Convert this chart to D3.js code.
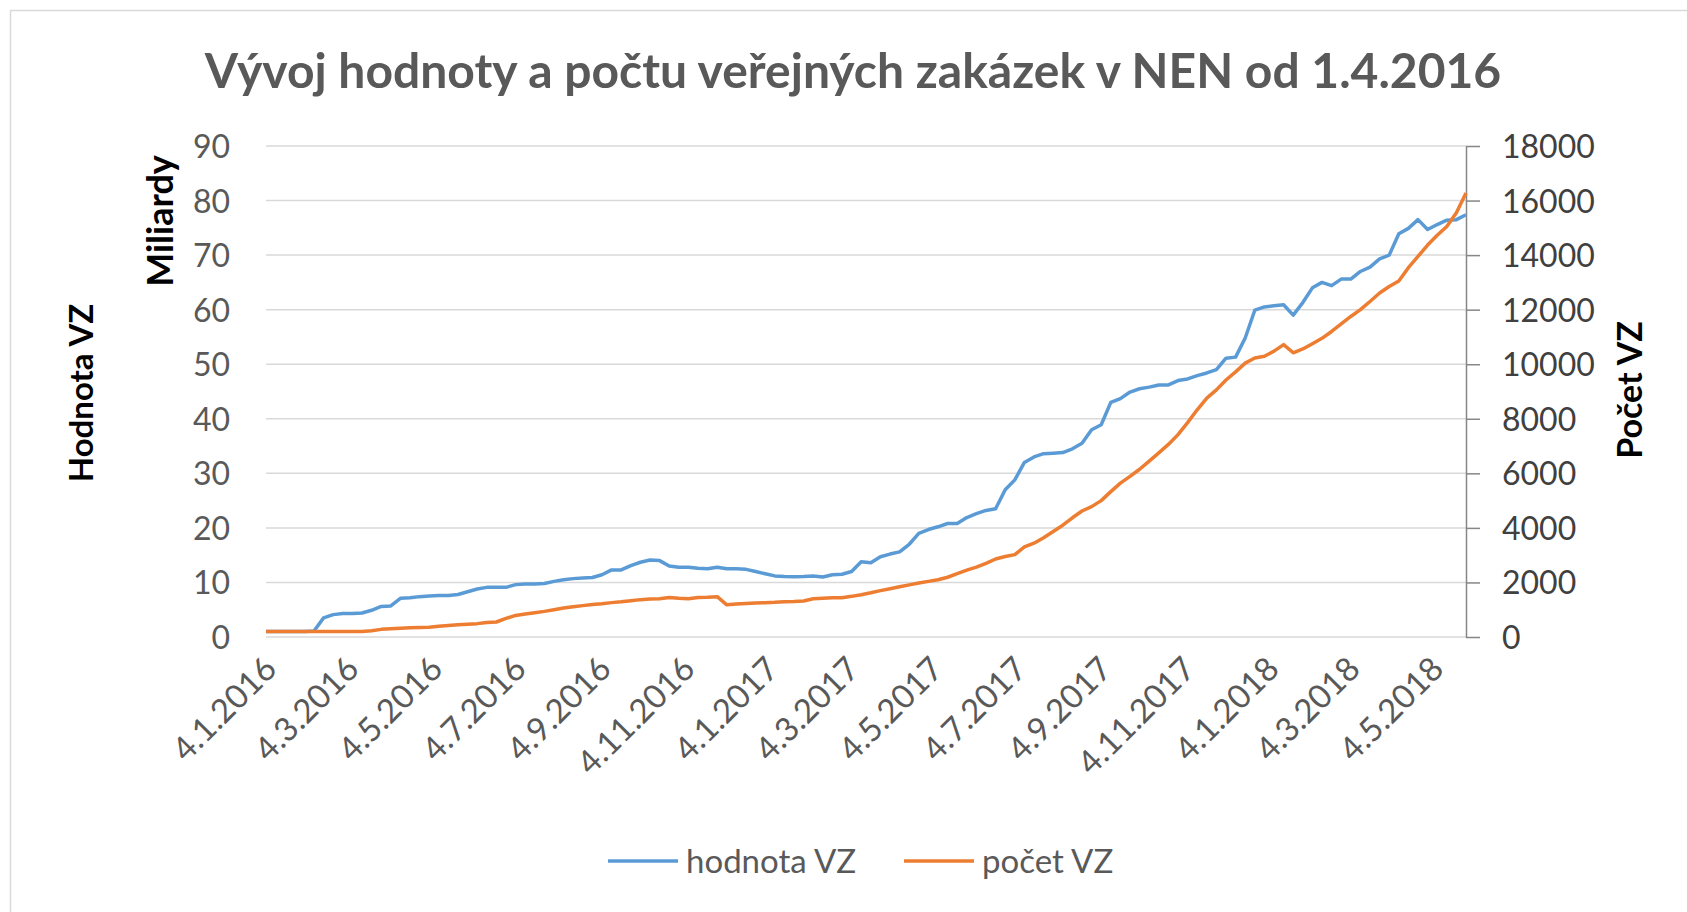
<!DOCTYPE html>
<html lang="cs">
<head>
<meta charset="UTF-8">
<title>Vývoj hodnoty a počtu veřejných zakázek v NEN</title>
<script src="https://cdn.jsdelivr.net/npm/d3@7"></script>
<style>
  body { margin: 0; background: #fff; }
  text { font-family: Lato, "Open Sans", sans-serif; }
</style>
</head>
<body>
<script>
// weekly values, Monday 4.1.2016 .. Monday 28.5.2018
const hodnotaVZ = [
  1.0, 1.0, 1.0, 1.0, 1.0, 1.1, 3.5, 4.1, 4.3, 4.3,
  4.4, 4.9, 5.6, 5.7, 7.1, 7.2, 7.4, 7.5, 7.6, 7.6,
  7.8, 8.3, 8.8, 9.1, 9.1, 9.1, 9.6, 9.7, 9.7, 9.8,
  10.2, 10.5, 10.7, 10.8, 10.9, 11.4, 12.3, 12.3, 13.1, 13.7,
  14.1, 14.0, 13.0, 12.8, 12.8, 12.6, 12.5, 12.8, 12.5, 12.5,
  12.4, 12.0, 11.6, 11.2, 11.1, 11.05, 11.1, 11.2, 11.0, 11.4,
  11.5, 12.0, 13.8, 13.6, 14.7, 15.2, 15.6, 17.0, 19.0, 19.7,
  20.2, 20.8, 20.8, 21.9, 22.6, 23.2, 23.5, 27.0, 28.8, 32.0,
  33.0, 33.6, 33.7, 33.8, 34.5, 35.5, 38.0, 38.9, 43.0, 43.7,
  44.9, 45.5, 45.8, 46.2, 46.2, 47.0, 47.3, 47.9, 48.4, 49.0,
  51.1, 51.3, 54.8, 59.9, 60.5, 60.7, 60.9, 59.0, 61.3, 64.0,
  65.0, 64.4, 65.6, 65.6, 67.0, 67.8, 69.3, 70.0, 73.9, 74.9,
  76.5, 74.7, 75.6, 76.4, 76.5, 77.4
];
const pocetVZ = [
  200, 200, 200, 200, 200, 200, 200, 200, 200, 200,
  200, 230, 280, 300, 320, 340, 350, 360, 390, 420,
  450, 470, 490, 530, 550, 680, 790, 840, 890, 940,
  1000, 1060, 1110, 1150, 1190, 1220, 1260, 1290, 1330, 1370,
  1390, 1400, 1450, 1420, 1400, 1450, 1460, 1480, 1180, 1210,
  1230, 1250, 1260, 1270, 1290, 1300, 1320, 1400, 1420, 1440,
  1440, 1490, 1550, 1620, 1700, 1770, 1840, 1910, 1980, 2040,
  2100, 2190, 2320, 2450, 2560, 2700, 2860, 2950, 3020, 3300,
  3440, 3640, 3870, 4100, 4370, 4620, 4780, 5000, 5330, 5640,
  5890, 6150, 6450, 6750, 7060, 7420, 7860, 8330, 8760, 9060,
  9420, 9720, 10040, 10230, 10290, 10480, 10720, 10420, 10560, 10750,
  10950, 11200, 11480, 11750, 12000, 12300, 12610, 12850, 13050, 13540,
  13950, 14370, 14730, 15050, 15550, 16280
];
const tickLabels = [
  "4.1.2016", "4.3.2016", "4.5.2016", "4.7.2016", "4.9.2016", "4.11.2016",
  "4.1.2017", "4.3.2017", "4.5.2017", "4.7.2017", "4.9.2017", "4.11.2017",
  "4.1.2018", "4.3.2018", "4.5.2018"
];
const leftTicks = [0, 10, 20, 30, 40, 50, 60, 70, 80, 90];
const rightTicks = [0, 2000, 4000, 6000, 8000, 10000, 12000, 14000, 16000, 18000];
const seriesNames = ["hodnota VZ", "počet VZ"];
const colors = ["#5b9bd5", "#ed7d31"];

const width = 1687, height = 912;
const plot = { left: 266, right: 1466, top: 146, bottom: 637 };

const parseDate = d3.timeParse("%d.%m.%Y");
const weeks = d3.timeMonday.range(new Date(2016, 0, 4), new Date(2018, 4, 29));

const svg = d3.select("body").append("svg")
  .attr("width", width)
  .attr("height", height)
  .style("background", "#fff");

// chart border
svg.append("rect")
  .attr("x", 10.5).attr("y", 10.5)
  .attr("width", 1720).attr("height", 950)
  .attr("fill", "none").attr("stroke", "#d9d9d9").attr("stroke-width", 1.5);

const x = d3.scaleTime()
  .domain([weeks[0], weeks[weeks.length - 1]])
  .range([plot.left, plot.right]);
const yL = d3.scaleLinear().domain([0, 90]).range([plot.bottom, plot.top]);
const yR = d3.scaleLinear().domain([0, 18000]).range([plot.bottom, plot.top]);

// gridlines
svg.append("g")
  .selectAll("line")
  .data(leftTicks)
  .enter().append("line")
  .attr("x1", plot.left).attr("x2", plot.right)
  .attr("y1", d => yL(d)).attr("y2", d => yL(d))
  .attr("stroke", "#d9d9d9").attr("stroke-width", 1.5);

// left axis labels
const gL = svg.append("g")
  .attr("transform", `translate(${plot.left - 36},0)`)
  .call(d3.axisLeft(yL).tickValues(leftTicks).tickSize(0));
gL.select(".domain").remove();
gL.selectAll("text")
  .attr("x", 0).attr("dy", "0.36em")
  .attr("fill", "#595959")
  .style("font-size", "32px")
  .style("font-family", "Lato, sans-serif");

// right axis
const gR = svg.append("g")
  .attr("transform", `translate(${plot.right},0)`)
  .call(d3.axisRight(yR).tickValues(rightTicks).tickFormat(d3.format("d"))
    .tickSize(14).tickSizeOuter(0));
gR.select(".domain").attr("stroke", "#868686").attr("stroke-width", 1.5);
gR.selectAll(".tick line").attr("stroke", "#868686").attr("stroke-width", 1.5);
gR.selectAll("text")
  .attr("x", 36).attr("dy", "0.36em")
  .attr("fill", "#404040")
  .style("font-size", "32px")
  .style("font-family", "Lato, sans-serif");

// bottom axis labels
const gB = svg.append("g")
  .attr("transform", `translate(0,${plot.bottom})`)
  .call(d3.axisBottom(x)
    .tickValues(tickLabels.map(parseDate))
    .tickFormat(d3.timeFormat("%-d.%-m.%Y"))
    .tickSize(0));
gB.select(".domain").remove();
gB.selectAll("text")
  .attr("x", 0).attr("y", 0).attr("dy", 0)
  .attr("text-anchor", "end")
  .attr("transform", "translate(12,34) rotate(-45)")
  .attr("fill", "#595959")
  .style("font-size", "33px")
  .style("font-family", "Lato, sans-serif");

// lines
const lineL = d3.line().x((d, i) => x(weeks[i])).y(d => yL(d));
const lineR = d3.line().x((d, i) => x(weeks[i])).y(d => yR(d));

svg.append("path")
  .datum(hodnotaVZ)
  .attr("d", lineL)
  .attr("fill", "none")
  .attr("stroke", colors[0])
  .attr("stroke-width", 3.5)
  .attr("stroke-linejoin", "round");

svg.append("path")
  .datum(pocetVZ)
  .attr("d", lineR)
  .attr("fill", "none")
  .attr("stroke", colors[1])
  .attr("stroke-width", 3.5)
  .attr("stroke-linejoin", "round");

// title
const title = svg.append("text")
  .attr("x", 853).attr("y", 88)
  .attr("text-anchor", "middle")
  .attr("fill", "#595959")
  .style("font-weight", "bold")
  .style("font-size", "44px")
  .text("Vývoj hodnoty a počtu veřejných zakázek v NEN od 1.4.2016");
const tw = title.node().getComputedTextLength();
title.style("font-size", (44 * 1297 / tw) + "px");

// axis titles
svg.append("text")
  .attr("transform", "translate(93,393) rotate(-90)")
  .attr("text-anchor", "middle")
  .style("font-weight", "bold").style("font-size", "33px")
  .attr("fill", "#000")
  .text("Hodnota VZ");

svg.append("text")
  .attr("transform", "translate(173,221) rotate(-90)")
  .attr("text-anchor", "middle")
  .style("font-weight", "bold").style("font-size", "36px")
  .attr("fill", "#000")
  .text("Miliardy");

svg.append("text")
  .attr("transform", "translate(1642,390) rotate(-90)")
  .attr("text-anchor", "middle")
  .style("font-weight", "bold").style("font-size", "34px")
  .attr("fill", "#000")
  .text("Počet VZ");

// legend
const legendX = [608, 904];
const legend = svg.append("g")
  .selectAll("g")
  .data(seriesNames)
  .enter().append("g")
  .attr("transform", (d, i) => `translate(${legendX[i]},861)`);
legend.append("line")
  .attr("x1", 0).attr("x2", 70)
  .attr("stroke", (d, i) => colors[i])
  .attr("stroke-width", 3.5);
legend.append("text")
  .attr("x", 78).attr("dy", "0.36em")
  .attr("fill", "#595959")
  .style("font-size", "33px")
  .text(d => d);
</script>
</body>
</html>
